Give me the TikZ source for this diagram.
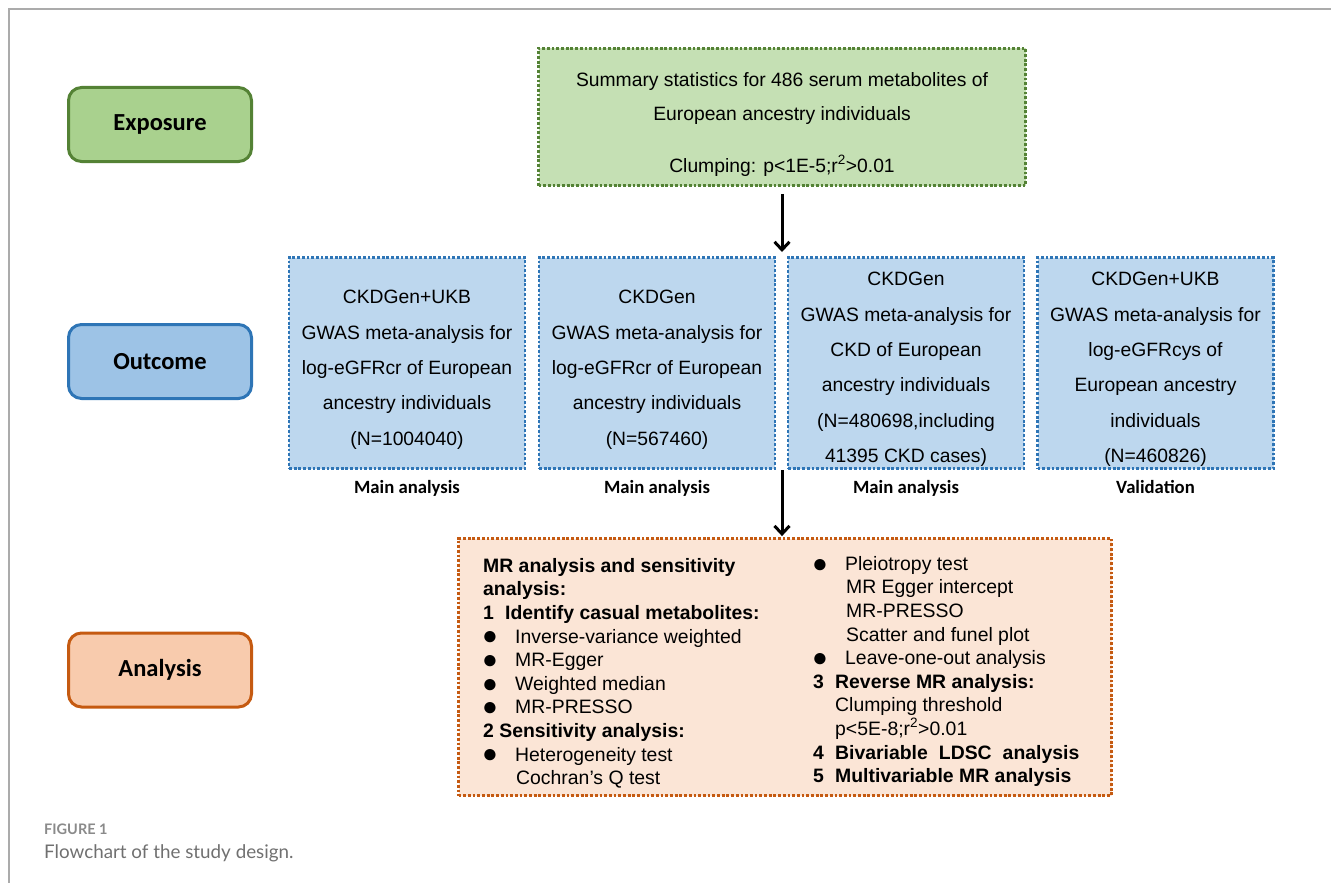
\documentclass[tikz,border=0pt]{standalone}
\usepackage{fontspec}
\usepackage{graphicx}
\setmainfont{Liberation Sans}
\newfontfamily\calfont{Carlito}
\newfontfamily\capfont{Lato}
\usetikzlibrary{arrows.meta}
\definecolor{gFill}{HTML}{A9D18E}
\definecolor{gLine}{HTML}{548235}
\definecolor{gLight}{HTML}{C5E0B4}
\definecolor{bFill}{HTML}{9DC3E6}
\definecolor{bLine}{HTML}{2E75B6}
\definecolor{bLight}{HTML}{BDD7EE}
\definecolor{oFill}{HTML}{F8CBAD}
\definecolor{oLine}{HTML}{C55A11}
\definecolor{oLight}{HTML}{FBE5D6}
\definecolor{frameGray}{HTML}{ABABAB}
\definecolor{capGray}{HTML}{8A8A8A}
\definecolor{capText}{HTML}{707070}
\newcommand\bul{\makebox[32pt][l]{\hspace*{-1pt}\smash{\raisebox{-1.8pt}{\scalebox{1.35}{●}}}}}
\begin{document}
\begin{tikzpicture}[x=1pt,y=-1pt,
  stage/.style={draw, rounded corners=13pt, line width=3pt, minimum width=183pt, minimum height=74pt, inner sep=0pt,
    font=\calfont\bfseries\fontsize{24.5}{28}\selectfont},
  dotbox/.style={line width=2.8pt, dash pattern=on 2.8pt off 1.9pt, inner sep=0pt},
  bluebox/.style={dotbox, draw=bLine, fill=bLight, minimum width=236pt, minimum height=211pt},
  body/.style={font=\fontsize{19.3}{35.4}\selectfont, align=center, inner sep=0pt, anchor=north},
  col/.style={font=\fontsize{19.4}{23.6}\selectfont, align=left, inner sep=0pt, anchor=north west},
  sub/.style={font=\calfont\bfseries\fontsize{18.7}{22}\selectfont, inner sep=0pt, anchor=base},
  arr/.style={line width=3pt, -{Straight Barb[length=8pt,width=15pt]}},
  frameline/.style={draw=frameGray, line width=1.3pt}]
\useasboundingbox (0,0) rectangle (1331,883);
\draw[frameline] (9,883) -- (9,9) -- (1331,9);

% stage labels
\node[stage, fill=gFill, draw=gLine] (expo) at (160,124.5) {Exposure};
\node[stage, fill=bFill, draw=bLine] (outc) at (160,361.5) {Outcome};
\node[stage, fill=oFill, draw=oLine] (anal) at (160,670) {Analysis};

% exposure box
\node[dotbox, draw=gLine, fill=gLight, minimum width=487pt, minimum height=137pt] (expbox) at (782,117) {};
\node[body, font=\fontsize{19.3}{34}\selectfont] (exptxt) at (782,72)
  {Summary statistics for 486 serum metabolites of\\European ancestry individuals\\[18pt]Clumping: p<1E-5;r\textsuperscript{2}>0.01};

% outcome boxes
\node[bluebox] (b1) at (407,363) {};
\node[bluebox] (b2) at (657,363) {};
\node[bluebox] (b3) at (906,363) {};
\node[bluebox] (b4) at (1155.5,363) {};
\node[body] (t1) at (407,290) {CKDGen+UKB\\GWAS meta-analysis for\\log-eGFRcr of European\\ancestry individuals\\(N=1004040)};
\node[body] (t2) at (657,290) {CKDGen\\GWAS meta-analysis for\\log-eGFRcr of European\\ancestry individuals\\(N=567460)};
\node[body] (t3) at (906,272) {CKDGen\\GWAS meta-analysis for\\CKD of European\\ancestry individuals\\(N=480698,including\\41395 CKD cases)};
\node[body] (t4) at (1155.5,272) {CKDGen+UKB\\GWAS meta-analysis for\\log-eGFRcys of\\European ancestry\\individuals\\(N=460826)};
\node[sub] (s1) at (407,493) {Main analysis};
\node[sub] (s2) at (657,493) {Main analysis};
\node[sub] (s3) at (906,493) {Main analysis};
\node[sub] (s4) at (1155.5,493) {Validation};

% analysis box
\node[dotbox, draw=oLine, fill=oLight, minimum width=653pt, minimum height=257pt] (abox) at (785,667) {};
\node[col] (lcol) at (483,558) {%
\textbf{MR analysis and sensitivity}\\
\textbf{analysis:}\\
\textbf{\makebox[22pt][l]{1}Identify casual metabolites:}\\
\bul Inverse-variance weighted\\
\bul MR-Egger\\
\bul Weighted median\\
\bul MR-PRESSO\\
\textbf{2 Sensitivity analysis:}\\
\bul Heterogeneity test\\
\hspace*{33pt}Cochran’s Q test};
\node[col] (rcol) at (813,556) {%
\bul Pleiotropy test\\
\hspace*{33pt}MR Egger intercept\\
\hspace*{33pt}MR-PRESSO\\
\hspace*{33pt}Scatter and funel plot\\
\bul Leave-one-out analysis\\
\textbf{\makebox[22pt][l]{3}Reverse MR analysis:}\\
\hspace*{22pt}Clumping threshold\\
\hspace*{22pt}p<5E-8;r\textsuperscript{2}>0.01\\
\textbf{\makebox[22pt][l]{4}Bivariable\hspace{11pt}LDSC\hspace{11pt}analysis}\\
\textbf{\makebox[22pt][l]{5}Multivariable MR analysis}};

% connectors
\coordinate (gapTop) at (782,256);
\coordinate (gapBot) at (782,470);
\draw[arr, shorten <=7pt, shorten >=4pt] (expbox.south) -- (gapTop);
\draw[arr, shorten >=1pt] (gapBot) -- (gapBot |- abox.north);

% caption
\node[anchor=base west, inner sep=0pt, text=capGray, font=\capfont\bfseries\fontsize{14.5}{16}\selectfont] (figno) at (44,834) {FIGURE 1};
\node[anchor=base west, inner sep=0pt, text=capText, font=\capfont\fontsize{18.8}{22}\selectfont] (figcap) at (44,858) {Flowchart of the study design.};
\end{tikzpicture}
\end{document}
